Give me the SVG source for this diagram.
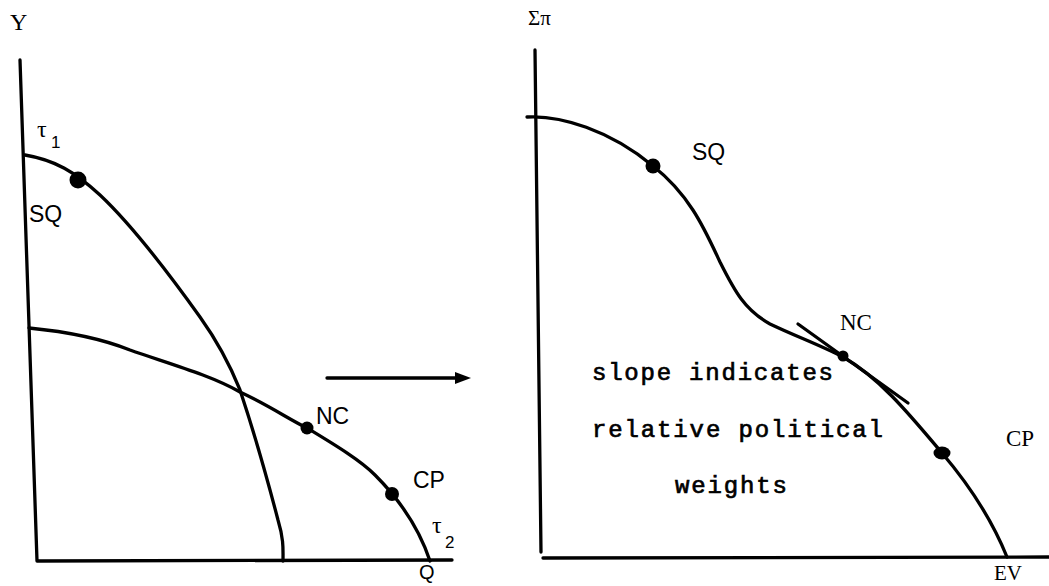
<svg xmlns="http://www.w3.org/2000/svg" width="1049" height="586" viewBox="0 0 1049 586">
<style>
.ln{fill:none;stroke:#000;stroke-width:3.3;stroke-linecap:round;stroke-linejoin:round}
.dot{fill:#000}
.sans{font-family:"Liberation Sans",Arial,sans-serif;fill:#000}
.serif{font-family:"Liberation Serif","Times New Roman",serif;fill:#000}
.mono{font-family:"Liberation Mono","Courier New",monospace;fill:#000;stroke:#000;stroke-width:0.7}
</style>
<rect width="1049" height="586" fill="#fff"/>
<g id="left-panel">
  <path class="ln" d="M20,60 L37,561 L452,560"/>
  <path class="ln" d="M25,155 C55,160 75,172 100,195 C135,228 170,275 200,317 C225,352 236,380 240,390 C250,420 265,470 278,520 C284,540 283,550 283,561"/>
  <path class="ln" d="M29,328 C70,332 100,338 130,350 C170,364 210,375 240,392 C270,406 290,420 307,428 C335,445 360,460 375,475 C395,495 418,525 430,561"/>
  <circle class="dot" cx="78" cy="180" r="8.5"/>
  <circle class="dot" cx="307" cy="428" r="6.5"/>
  <circle class="dot" cx="392" cy="494" r="7"/>
  <text class="serif" x="10" y="30" font-size="24">Y</text>
  <text class="serif" x="37" y="137" font-size="24">τ</text>
  <text class="sans" x="51" y="148" font-size="17">1</text>
  <text class="sans" x="29" y="222" font-size="23">SQ</text>
  <text class="sans" x="316" y="424" font-size="23">NC</text>
  <text class="sans" x="413" y="488" font-size="23">CP</text>
  <text class="serif" x="432" y="533" font-size="24">τ</text>
  <text class="sans" x="445" y="548" font-size="17">2</text>
  <text class="sans" x="419" y="579" font-size="20">Q</text>
</g>
<g id="arrow">
  <line class="ln" x1="327" y1="378" x2="458" y2="378"/>
  <polygon class="dot" points="455,372 471,378 455,384"/>
</g>
<g id="right-panel">
  <path class="ln" d="M535,50 L541,552"/>
  <path class="ln" d="M543,558 L1049,557"/>
  <path class="ln" d="M527,117 C560,115 610,130 653,166 C690,195 705,230 720,262 C735,292 745,310 770,324 C795,336 820,345 843,357 C880,378 910,415 942,453 C965,480 990,515 1007,557"/>
  <line class="ln" x1="798" y1="324" x2="908" y2="403"/>
  <circle class="dot" cx="653" cy="166" r="7.5"/>
  <circle class="dot" cx="843" cy="356" r="5.5"/>
  <ellipse class="dot" cx="942" cy="453" rx="8.5" ry="6.5"/>
  <text class="serif" x="528" y="25" font-size="21">Σπ</text>
  <text class="sans" x="692" y="160" font-size="23">SQ</text>
  <text class="serif" x="840" y="330" font-size="23">NC</text>
  <text class="serif" x="1006" y="446" font-size="23">CP</text>
  <text class="serif" x="994" y="580" font-size="21">EV</text>
  <text class="mono" x="592" y="380" font-size="24" textLength="241" lengthAdjust="spacing">slope indicates</text>
  <text class="mono" x="592" y="437" font-size="24" textLength="291" lengthAdjust="spacing">relative political</text>
  <text class="mono" x="675" y="493" font-size="24" textLength="112" lengthAdjust="spacing">weights</text>
</g>
</svg>
